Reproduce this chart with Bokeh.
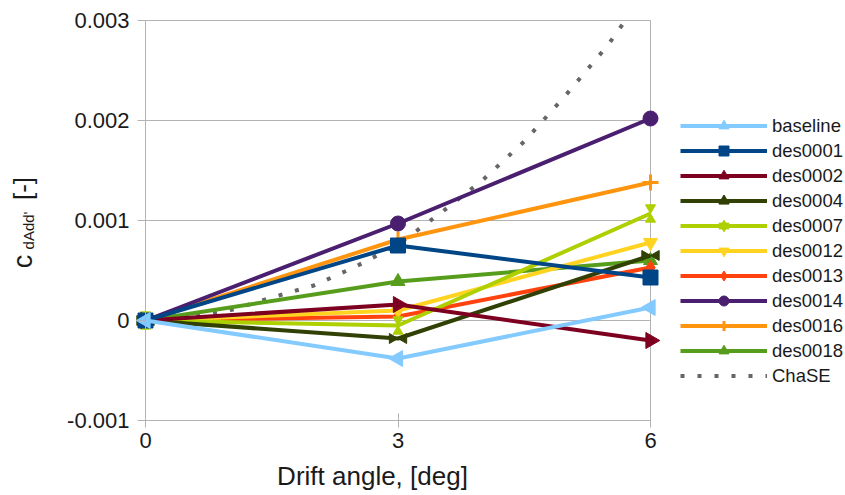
import math
from bokeh.plotting import figure
from bokeh.models import (Range1d, FixedTicker, CustomJSTickFormatter, Label,
                          Legend, LegendItem, LinearAxis, Grid)
from bokeh.embed import file_html
from bokeh.resources import INLINE

# ---------------- data ----------------
drift_angle = [0, 3, 6]
baseline = [0.0, -0.00038, 0.00013]
des0001 = [0.0, 0.00075, 0.00043]
des0002 = [0.0, 0.00016, -0.00020]
des0004 = [0.0, -0.00018, 0.00065]
des0007 = [0.0, -0.00005, 0.00107]
des0012 = [0.0, 0.00010, 0.00078]
des0013 = [0.0, 0.00004, 0.00053]
des0014 = [0.0, 0.00097, 0.00202]
des0016 = [0.0, 0.00081, 0.00138]
des0018 = [0.0, 0.00039, 0.00060]

# ChaSE curve, read up to where it leaves the top of the plot area
chase_angle = [0, 0.5, 1, 1.5, 2, 2.5, 3, 3.5, 4, 4.5, 5, 5.5, 5.7]
chase_value = [0.0, 0.00003, 0.00010, 0.00023, 0.00035, 0.00054, 0.00076,
               0.00107, 0.00140, 0.00179, 0.00226, 0.00276, 0.00300]

y_ticks = [-0.001, 0, 0.001, 0.002, 0.003]
x_ticks = [0, 3, 6]

series = [
    ("baseline", baseline, "#83caff", "tri_left"),
    ("des0001", des0001, "#004586", "square"),
    ("des0002", des0002, "#7e0021", "tri_right"),
    ("des0004", des0004, "#314004", "bowtie"),
    ("des0007", des0007, "#aecf00", "hourglass"),
    ("des0012", des0012, "#ffd320", "inverted_triangle"),
    ("des0013", des0013, "#ff420e", "diamond"),
    ("des0014", des0014, "#4b1f6f", "circle"),
    ("des0016", des0016, "#ff950e", "cross"),
    ("des0018", des0018, "#579d1c", "triangle"),
]

FONT = "Liberation Sans"
TXT = "#1a1a1a"
GRID = "#b3b3b3"

W, H = 845, 495
X0, X1 = 0, 6
Y0, Y1 = -0.001, 0.003
# plot-area placement inside the canvas (pixels)
L, R, T, B = 145, 650, 20, 420
px_x = (X1 - X0) / (R - L)
px_y = (Y1 - Y0) / (B - T)

x_range = Range1d(X0 - L * px_x, X1 + (W - R) * px_x)
y_range = Range1d(Y0 - (H - B) * px_y, Y1 + T * px_y)

p = figure(width=W, height=H, output_backend="svg", toolbar_location=None,
           x_range=x_range, y_range=y_range, x_axis_type=None, y_axis_type=None,
           min_border=0)
p.background_fill_color = "white"
p.border_fill_color = "white"
p.outline_line_color = None
p.grid.visible = False

# horizontal grid lines and the right border of the plot area
p.add_layout(Grid(dimension=1, ticker=FixedTicker(ticks=y_ticks), cross_bounds=(X0, X1),
                  grid_line_color=GRID, grid_line_width=1))
p.add_layout(Grid(dimension=0, ticker=FixedTicker(ticks=[X1]), cross_bounds=(Y0, Y1),
                  grid_line_color=GRID, grid_line_width=1))

# axes drawn at the plot-area edges
xaxis = LinearAxis(fixed_location=Y0, bounds=(X0, X1), ticker=FixedTicker(ticks=x_ticks))
yaxis = LinearAxis(fixed_location=X0, bounds=(Y0, Y1), ticker=FixedTicker(ticks=y_ticks))
yaxis.formatter = CustomJSTickFormatter(code="""
    if (Math.abs(tick) < 1e-12) return "0";
    return tick.toFixed(3);
""")
for ax in (xaxis, yaxis):
    ax.axis_line_color = GRID
    ax.major_tick_line_color = GRID
    ax.minor_tick_line_color = None
    ax.major_label_text_font = FONT
    ax.major_label_text_font_size = "22px"
    ax.major_label_text_color = TXT
xaxis.major_tick_in = 7
xaxis.major_tick_out = 7
xaxis.major_label_standoff = 5
yaxis.major_tick_in = 0
yaxis.major_tick_out = 8
yaxis.major_label_standoff = 8
p.add_layout(xaxis, "below")
p.add_layout(yaxis, "left")

# ChaSE dotted curve (drawn first, below the series)
chase_r = p.line(chase_angle, chase_value, line_color="#666666", line_width=4,
                 line_dash="4 13", line_cap="butt")

legend_map = {}
for name, vals, color, marker in reversed(series):
    rl = p.line(drift_angle, vals, line_color=color, line_width=4)
    rs = []
    if marker == "tri_left":
        rs.append(p.scatter(drift_angle, vals, marker="triangle", angle=math.pi / 2,
                            size=16, color=color))
    elif marker == "tri_right":
        rs.append(p.scatter(drift_angle, vals, marker="triangle", angle=-math.pi / 2,
                            size=16, color=color))
    elif marker == "bowtie":
        s = 10
        off = s / 2 * math.sqrt(3) * 2 / 3 * px_x
        rs.append(p.scatter([a - off for a in drift_angle], vals, marker="triangle",
                            angle=-math.pi / 2, size=s, color=color))
        rs.append(p.scatter([a + off for a in drift_angle], vals, marker="triangle",
                            angle=math.pi / 2, size=s, color=color))
    elif marker == "hourglass":
        s = 10
        off = s / 2 * math.sqrt(3) * 2 / 3 * px_y
        rs.append(p.scatter(drift_angle, [v + off for v in vals], marker="inverted_triangle",
                            size=s, color=color))
        rs.append(p.scatter(drift_angle, [v - off for v in vals], marker="triangle",
                            size=s, color=color))
    elif marker == "cross":
        rs.append(p.scatter(drift_angle, vals, marker="cross", size=16,
                            line_color=color, line_width=3))
    elif marker in ("square", "circle"):
        rs.append(p.scatter(drift_angle, vals, marker=marker, size=15, color=color))
    else:
        rs.append(p.scatter(drift_angle, vals, marker=marker, size=14, color=color))
    legend_map[name] = [rl] + rs

items = [LegendItem(label=name, renderers=legend_map[name]) for name, *_ in series]
items.append(LegendItem(label="ChaSE", renderers=[chase_r]))
legend = Legend(items=items, location=(680, H - 388), orientation="vertical",
                glyph_width=87, glyph_height=25, label_height=25, spacing=0,
                label_standoff=5, padding=0, margin=0,
                border_line_color=None, background_fill_alpha=0,
                label_text_font=FONT, label_text_font_size="18.5px",
                label_text_color=TXT)
p.add_layout(legend, "center")

# axis titles
def dx(px):
    return X0 + (px - L) * px_x

def dy(py):
    return Y1 - (py - T) * px_y

p.add_layout(Label(x=dx(372), y=dy(475), text="Drift angle, [deg]",
                   text_align="center", text_baseline="alphabetic",
                   text_font=FONT, text_font_size="26px", text_color=TXT))

ylab = dict(angle=math.pi / 2, text_align="center", text_baseline="middle",
            text_font=FONT, text_color=TXT)
p.add_layout(Label(x=dx(22), y=dy(261), text="c", text_font_size="27px", **ylab))
p.add_layout(Label(x=dx(28), y=dy(230), text="dAdd'", text_font_size="15px", **ylab))
p.add_layout(Label(x=dx(22.5), y=dy(188), text="[-]", text_font_size="26px", **ylab))

open("out.html", "w").write(file_html(p, INLINE))
